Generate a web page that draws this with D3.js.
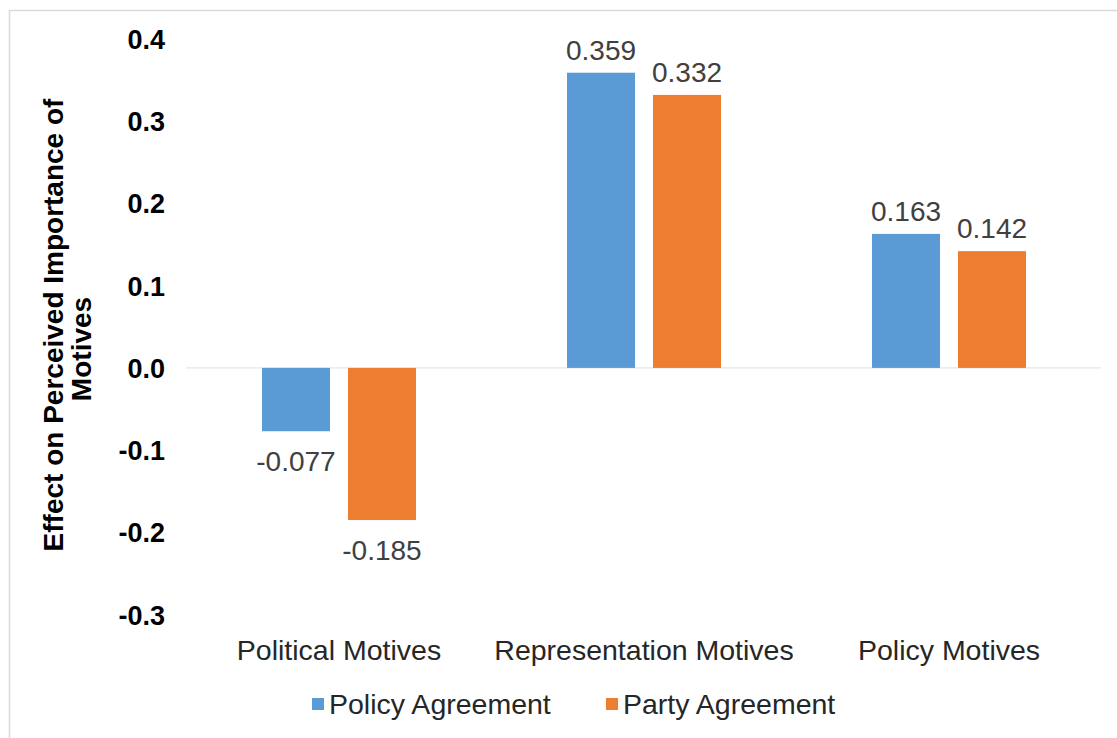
<!DOCTYPE html>
<html>
<head>
<meta charset="utf-8">
<script src="https://cdn.jsdelivr.net/npm/d3@7"></script>
<style>
  html, body { margin: 0; padding: 0; background: #fff; }
  svg { display: block; font-family: "Liberation Sans", Arial, sans-serif; }
</style>
</head>
<body>
<svg id="chart" width="1117" height="738"></svg>
<script>
// Effect of agreement on perceived importance of motives
const categories = ["Political Motives", "Representation Motives", "Policy Motives"];
const seriesNames = ["Policy Agreement", "Party Agreement"];
const policyAgreement = [-0.077, 0.359, 0.163];
const partyAgreement = [-0.185, 0.332, 0.142];
const yTicks = [0.4, 0.3, 0.2, 0.1, 0.0, -0.1, -0.2, -0.3];
const colors = ["#5B9BD5", "#ED7D31"];

const fmt1 = d => d3.format(".1f")(d).replace("\u2212", "-");
const fmt3 = d => d3.format(".3f")(d).replace("\u2212", "-");

const svg = d3.select("#chart");

// chart frame
svg.append("rect")
  .attr("x", 9.5).attr("y", 10.5)
  .attr("width", 1117).attr("height", 740)
  .attr("fill", "#fff").attr("stroke", "#d9d9d9").attr("stroke-width", 1.5);

const x = d3.scaleBand().domain(categories).range([186.5, 1101.5]);
const y = d3.scaleLinear().domain([-0.3, 0.4]).range([614.6, 39]);
const xs = d3.scaleBand().domain(seriesNames).range([0, x.bandwidth()])
  .paddingInner(0.209).paddingOuter(0.878);

// y axis labels
const yAxis = d3.axisLeft(y).tickValues(yTicks).tickFormat(fmt1).tickSize(0).tickPadding(0);
const gy = svg.append("g").attr("transform", "translate(165,0)").call(yAxis);
gy.select(".domain").remove();
gy.selectAll("text")
  .attr("font-size", 27).attr("font-weight", "bold").attr("fill", "#000")
  .attr("dy", "0.35em")
  .attr("font-family", "'Liberation Sans', Arial, sans-serif");

// zero baseline
svg.append("line")
  .attr("x1", 186).attr("x2", 1101)
  .attr("y1", y(0)).attr("y2", y(0))
  .attr("stroke", "#e6e6e6").attr("stroke-width", 1.2);

// y title (two lines)
svg.append("text")
  .attr("transform", "translate(63,325) rotate(-90)")
  .attr("text-anchor", "middle").attr("font-size", 28).attr("font-weight", "bold").attr("fill", "#000")
  .text("Effect on Perceived Importance of");
svg.append("text")
  .attr("transform", "translate(91,349) rotate(-90)")
  .attr("text-anchor", "middle").attr("font-size", 28).attr("font-weight", "bold").attr("fill", "#000")
  .text("Motives");

// bars and value labels
const series = [policyAgreement, partyAgreement];
series.forEach((vals, si) => {
  const g = svg.append("g");
  g.selectAll("rect").data(vals).join("rect")
    .attr("x", (d, i) => x(categories[i]) + xs(seriesNames[si]))
    .attr("width", xs.bandwidth())
    .attr("y", d => y(Math.max(0, d)))
    .attr("height", d => Math.abs(y(d) - y(0)))
    .attr("fill", colors[si]);
  g.selectAll("text").data(vals).join("text")
    .attr("x", (d, i) => x(categories[i]) + xs(seriesNames[si]) + xs.bandwidth() / 2)
    .attr("y", d => d >= 0 ? y(d) - 13 : y(d) + 40)
    .attr("text-anchor", "middle")
    .attr("font-size", 28).attr("fill", "#404040")
    .text(fmt3);
});

// category labels
const xAxis = d3.axisBottom(x).tickSize(0).tickPadding(0);
const gx = svg.append("g").attr("transform", "translate(0,640)").call(xAxis);
gx.select(".domain").remove();
gx.selectAll("text")
  .attr("font-size", 28.5).attr("fill", "#262626").attr("dy", "0.71em")
  .attr("font-family", "'Liberation Sans', Arial, sans-serif");

// legend
const legendX = [312, 606];
seriesNames.forEach((name, i) => {
  const lg = svg.append("g").attr("transform", `translate(${legendX[i]},698)`);
  lg.append("rect").attr("x", 0).attr("y", 0).attr("width", 12).attr("height", 12).attr("fill", colors[i]);
  lg.append("text").attr("x", 17).attr("y", 16)
    .attr("font-size", 28.5).attr("fill", "#262626").text(name);
});
</script>
</body>
</html>
